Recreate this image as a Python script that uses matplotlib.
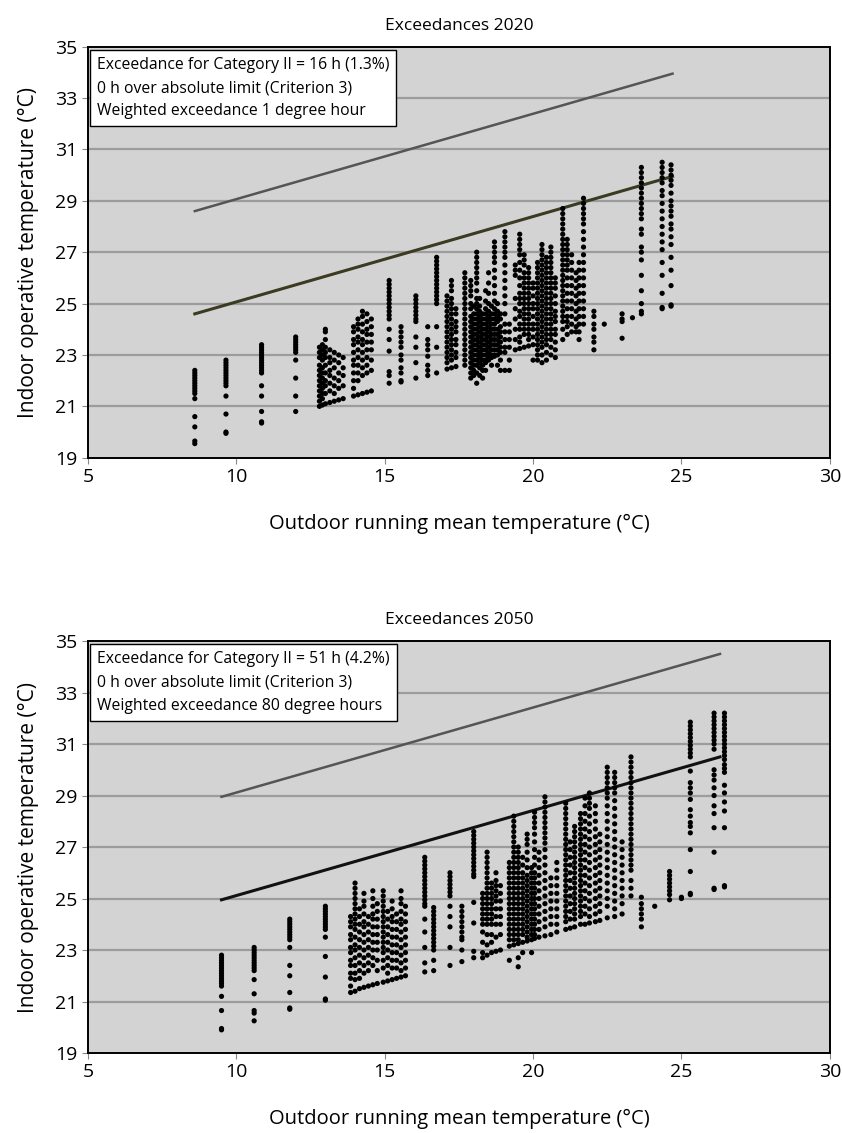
import numpy as np
import matplotlib
matplotlib.use('Agg')
import matplotlib.pyplot as plt

plt.rcParams['font.family'] = ['Open Sans', 'DejaVu Sans']

# Hourly indoor operative temperatures, one day per column: "Trm: T_op values"
COLUMNS_2020 = [
    '8.6: 22.4 22.3 22.2 22.1 22.0 21.9 21.8 21.7 21.6 21.5 21.3 20.6 20.2 19.65 19.55',
    '9.65: 22.8 22.7 22.6 22.5 22.4 22.3 22.2 22.1 22.0 21.9 21.8 21.4 20.7 20.0 19.95',
    '10.85: 23.4 23.3 23.2 23.1 23.0 22.9 22.8 22.7 22.6 22.5 22.4 22.3 21.8 21.4 20.8 20.4 20.35',
    '12.0: 23.7 23.6 23.5 23.4 23.3 23.2 23.1 22.8 22.1 21.4 20.8',
    '12.8: 23.3 23.1 22.9 22.6 22.4 22.2 22.0 21.8 21.6 21.4 21.2 21.0',
    '12.9: 23.4 23.2 23.0 22.8 22.5 22.3 22.1 21.9 21.7 21.5 21.3 21.05',
    '13.0: 24.0 23.9 23.6 23.3 23.1 22.9 22.6 22.3 22.0 21.8 21.5 21.1',
    '13.15: 23.2 22.9 22.7 22.4 22.2 21.9 21.6 21.15',
    '13.3: 23.1 22.8 22.5 22.1 21.8 21.5 21.2',
    '13.45: 23.0 22.7 22.3 22.0 21.7 21.25',
    '13.6: 22.9 22.5 22.2 21.8 21.3',
    '13.95: 24.1 23.9 23.6 23.4 23.1 22.8 22.6 22.3 22.0 21.7 21.4',
    '14.1: 24.4 24.2 24.0 23.7 23.5 23.2 22.9 22.6 22.3 22.0 21.45',
    '14.25: 24.7 24.5 24.2 23.9 23.6 23.4 23.1 22.8 22.5 22.2 21.5',
    '14.4: 24.6 24.3 24.0 23.8 23.5 23.2 22.9 22.6 22.3 21.55',
    '14.55: 24.4 24.1 23.8 23.5 23.2 22.8 22.4 21.6',
    '15.15: 25.9 25.75 25.6 25.45 25.3 25.15 25.0 24.85 24.7 24.55 24.4 24.0 23.6 23.15 22.35 22.2 21.9',
    '15.55: 24.1 23.9 23.7 23.5 23.3 23.0 22.8 22.5 22.3 22.0 21.95',
    '16.05: 25.3 25.15 25.0 24.85 24.7 24.55 24.4 24.3 23.7 23.3 22.7 22.1',
    '16.45: 24.1 23.6 23.4 23.2 22.95 22.6 22.4 22.2',
    '16.75: 26.8 26.65 26.5 26.35 26.2 26.05 25.9 25.75 25.6 25.45 25.3 25.15 25.0 24.1 23.3 22.3',
    '17.1: 25.3 25.1 24.9 24.7 24.5 24.3 24.1 23.9 23.7 23.5 23.3 23.1 22.9 22.7 22.45',
    '17.25: 25.9 25.7 25.5 25.2 25.0 24.8 24.6 24.4 24.2 24.0 23.8 23.6 23.4 23.2 23.0 22.8 22.5',
    '17.4: 24.8 24.6 24.3 24.1 23.9 23.6 23.4 23.1 22.9 22.55',
    '17.7: 26.2 26.0 25.8 25.6 25.4 25.2 25.0 24.8 24.6 24.4 24.2 24.0 23.8 23.6 23.4 23.2 23.0 22.8 22.6',
    '17.9: 25.9 25.7 25.5 25.3 25.0 24.8 24.5 24.3 24.1 23.9 23.7 23.5 23.3 23.1 22.9 22.7 22.5 22.3 22.1',
    '18.0: 24.9 24.6 24.4 24.2 24.0 23.8 23.6 23.4 23.2 23.0 22.8 22.6 22.4 22.2',
    '18.1: 27.0 26.8 26.6 26.4 26.2 26.0 25.8 25.5 25.2 25.0 24.8 24.6 24.4 24.2 24.0 23.8 23.6 23.4 23.2 23.0 22.8 22.6 22.3 21.9',
    '18.2: 25.2 24.9 24.7 24.5 24.3 24.1 23.9 23.7 23.5 23.3 23.1 22.9 22.7 22.5 22.2',
    '18.3: 24.6 24.4 24.2 24.0 23.8 23.6 23.4 23.2 23.0 22.8 22.6 22.4 22.1',
    '18.4: 25.5 25.1 24.8 24.6 24.4 24.2 24.0 23.8 23.6 23.4 23.2 23.0 22.8 22.7 22.4',
    '18.5: 26.2 25.8 25.4 25.0 24.7 24.5 24.3 24.1 23.9 23.7 23.5 23.3 23.1 22.9 22.8',
    '18.6: 24.9 24.6 24.4 24.2 24.0 23.8 23.6 23.4 23.2 23.0 22.9 22.6',
    '18.7: 27.4 27.2 27.0 26.8 26.6 26.3 26.0 25.7 25.4 25.1 24.8 24.6 24.4 24.2 24.0 23.8 23.6 23.4 23.2 23.0 22.95',
    '18.8: 25.0 24.7 24.5 24.3 24.0 23.8 23.6 23.4 23.2 23.0 22.6',
    '18.9: 24.6 24.4 24.1 23.9 23.7 23.5 23.3 23.1 22.8 22.4',
    '19.05: 27.8 27.6 27.4 27.2 27.0 26.8 26.5 26.2 25.9 25.6 25.3 25.0 24.6 24.2 23.9 23.6 23.3 23.1 22.4',
    '19.2: 24.2 23.9 23.6 23.3 22.8 22.4',
    '19.4: 26.5 26.3 26.1 25.2 24.8 24.4 24.0 23.6 23.2',
    '19.55: 27.7 27.5 27.3 27.1 26.9 26.6 26.3 26.0 25.7 25.4 25.2 25.0 24.7 24.5 24.2 24.0 23.7 23.5 23.25',
    '19.7: 26.9 26.7 26.5 26.2 26.0 25.8 25.6 25.4 25.2 25.0 24.8 24.6 24.4 24.2 24.0 23.8 23.3',
    '19.85: 26.4 26.2 26.0 25.8 25.6 25.4 25.2 25.0 24.8 24.6 24.4 24.2 24.0 23.8 23.6 23.35',
    '20.0: 25.8 25.6 25.3 25.0 24.8 24.5 24.2 24.0 23.7 23.4 22.8',
    '20.15: 26.6 26.4 26.2 26.0 25.8 25.6 25.4 25.2 25.0 24.8 24.6 24.4 24.2 24.0 23.8 23.6 23.4 23.2 23.0 22.8',
    '20.3: 27.3 27.1 26.9 26.7 26.5 26.3 26.1 25.9 25.7 25.5 25.3 25.1 24.9 24.7 24.5 24.3 24.1 23.9 23.7 23.5 23.3 23.0 22.7',
    '20.45: 26.8 26.6 26.4 26.2 26.0 25.8 25.6 25.4 25.2 25.0 24.8 24.6 24.4 24.2 24.0 23.8 23.6 23.4 23.1 22.8',
    '20.6: 27.2 27.0 26.8 26.6 26.4 26.2 26.0 25.8 25.6 25.4 25.2 25.0 24.8 24.6 24.4 24.2 24.0 23.8 23.6 23.3 23.0',
    '20.75: 26.0 25.8 25.6 25.3 25.0 24.7 24.5 24.3 24.0 23.8 23.5 23.2 22.9',
    '21.0: 28.7 28.5 28.3 28.1 27.9 27.7 27.5 27.3 27.1 26.9 26.7 26.5 26.3 26.1 25.9 25.7 25.5 25.3 25.1 24.9 24.7 24.5 24.3 24.0 23.6',
    '21.15: 27.5 27.3 27.1 26.9 26.7 26.5 26.3 26.0 25.7 25.4 25.1 24.8 24.5 24.3 24.1 23.8',
    '21.3: 26.9 26.6 26.3 26.0 25.7 25.4 25.1 24.8 24.5 24.2 23.9',
    '21.45: 26.2 25.9 25.6 25.3 25.0 24.7 24.4 24.1 23.9',
    '21.55: 26.6 26.3 26.0 25.7 25.4 25.1 24.8 24.5 24.2 23.9 23.6',
    '21.7: 29.1 28.9 28.7 28.5 28.3 28.1 27.8 27.5 27.2 26.9 26.6 26.3 26.0 25.7 25.4 25.1 24.8 24.5 24.2',
    '22.05: 24.7 24.5 24.2 24.0 23.7 23.5 23.2',
    '22.4: 24.2',
    '23.0: 24.6 24.4 24.3 23.65',
    '23.35: 24.45',
    '23.65: 30.3 30.1 29.9 29.7 29.5 29.3 29.1 28.9 28.7 28.5 28.3 27.9 27.7 27.2 27.0 26.7 26.1 25.5 25.0 24.7 24.6',
    '24.35: 30.5 30.3 30.1 29.9 29.7 29.4 29.2 28.9 28.6 28.3 28.0 27.7 27.4 27.1 26.6 26.1 25.4 24.85 24.8',
    '24.65: 30.4 30.2 30.0 29.8 29.6 29.3 29.0 28.8 28.6 28.4 28.1 27.9 27.6 27.3 26.8 26.3 25.7 24.95 24.9',
]

COLUMNS_2050 = [
    '9.5: 22.8 22.7 22.6 22.5 22.4 22.3 22.2 22.1 22.0 21.9 21.8 21.7 21.6 21.2 20.65 19.95 19.9',
    '10.6: 23.1 23.0 22.9 22.8 22.7 22.6 22.5 22.4 22.3 22.2 21.85 21.3 20.65 20.55 20.25',
    '11.8: 24.2 24.1 24.0 23.9 23.8 23.7 23.6 23.5 23.4 23.1 22.4 22.0 21.35 20.75 20.7',
    '13.0: 24.7 24.6 24.5 24.4 24.3 24.2 24.1 24.0 23.9 23.8 23.5 22.75 21.95 21.1 21.05',
    '13.85: 24.3 24.1 23.9 23.6 23.4 23.1 22.9 22.6 22.4 22.1 21.9 21.6 21.35',
    '14.0: 25.6 25.4 25.2 25.0 24.8 24.6 24.4 24.2 24.0 23.8 23.5 23.2 23.0 22.7 22.4 22.1 21.85 21.4',
    '14.15: 24.6 24.3 24.0 23.7 23.4 23.1 22.8 22.5 22.2 21.9 21.5',
    '14.3: 25.2 24.9 24.7 24.4 24.1 23.9 23.6 23.3 23.0 22.7 22.4 22.1 21.55',
    '14.45: 24.3 24.0 23.7 23.4 23.1 22.8 22.5 22.2 21.6',
    '14.6: 25.3 25.0 24.7 24.4 24.2 23.9 23.6 23.3 23.0 22.7 22.4 21.65',
    '14.75: 24.8 24.5 24.2 23.9 23.6 23.3 23.0 22.6 22.2 21.7',
    '14.95: 25.3 25.1 24.9 24.7 24.5 24.3 24.1 23.9 23.7 23.5 23.3 23.1 22.9 22.6 22.3 21.75',
    '15.1: 24.5 24.2 23.9 23.6 23.3 23.0 22.7 22.4 22.1 21.8',
    '15.25: 24.9 24.6 24.3 24.1 23.8 23.5 23.2 22.9 22.6 22.3 21.85',
    '15.4: 24.4 24.1 23.8 23.5 23.2 22.9 22.6 22.3 21.9',
    '15.55: 25.3 25.0 24.8 24.5 24.2 24.0 23.7 23.4 23.1 22.8 22.5 22.2 21.95',
    '15.7: 24.7 24.4 24.1 23.8 23.5 23.2 22.9 22.6 22.3 22.0',
    '16.35: 26.6 26.45 26.3 26.15 26.0 25.85 25.7 25.55 25.4 25.25 25.1 24.95 24.8 24.7 24.2 23.7 23.1 22.5 22.15',
    '16.65: 24.65 24.5 24.35 24.2 24.05 23.9 23.75 23.6 23.45 23.3 23.15 23.0 22.6 22.2',
    '17.2: 26.0 25.85 25.7 25.55 25.4 25.25 25.1 24.7 24.3 23.9 23.1 22.4',
    '17.6: 24.7 24.5 24.3 24.1 23.9 23.7 23.5 23.4 23.0 22.55',
    '18.0: 27.6 27.45 27.3 27.15 27.0 26.85 26.7 26.55 26.4 26.25 26.1 25.95 25.85 24.85 24.05 22.95 22.7',
    '18.3: 25.2 25.0 24.8 24.6 24.4 24.2 24.0 23.7 23.3 22.9 22.7',
    '18.45: 26.8 26.6 26.4 26.2 26.0 25.8 25.6 25.4 25.2 25.0 24.8 24.6 24.4 24.2 24.0 23.6 23.2 22.8',
    '18.6: 25.6 25.4 25.2 25.0 24.8 24.6 24.4 24.2 24.0 23.6 23.3 22.9',
    '18.75: 26.0 25.7 25.5 25.3 25.1 24.9 24.6 24.3 24.0 23.5 22.95',
    '18.9: 25.5 25.2 24.9 24.6 24.3 24.0 23.6 23.0',
    '19.2: 26.4 26.2 26.0 25.8 25.6 25.4 25.2 25.0 24.8 24.6 24.4 24.2 24.0 23.8 23.6 23.4 23.15 22.6',
    '19.35: 28.2 28.0 27.8 27.6 27.4 27.2 27.0 26.8 26.6 26.4 26.2 26.0 25.8 25.6 25.4 25.2 25.0 24.8 24.6 24.4 24.2 24.0 23.8 23.6 23.4 23.2',
    '19.5: 27.0 26.8 26.6 26.4 26.2 26.0 25.8 25.6 25.4 25.2 25.0 24.8 24.6 24.4 24.2 24.0 23.8 23.6 23.4 23.25 22.7 22.35',
    '19.65: 26.6 26.3 26.0 25.8 25.6 25.4 25.2 25.0 24.8 24.6 24.4 24.2 24.0 23.8 23.6 23.3 22.9',
    '19.8: 27.5 27.3 27.1 26.8 26.5 26.2 25.9 25.7 25.5 25.3 25.1 24.9 24.7 24.5 24.3 24.1 23.9 23.7 23.5 23.35',
    '19.95: 26.2 26.0 25.8 25.6 25.4 25.2 25.0 24.8 24.6 24.4 24.2 24.0 23.8 23.6 23.4 22.9',
    '20.05: 28.35 28.15 27.95 27.75 27.5 27.2 26.9 26.6 26.3 26.0 25.8 25.6 25.4 25.2 25.0 24.8 24.6 24.4 24.2 24.0 23.8 23.6 23.45',
    '20.2: 26.8 26.5 26.2 25.9 25.6 25.3 25.0 24.7 24.4 24.1 23.8 23.5',
    '20.4: 28.95 28.75 28.55 28.35 28.15 27.95 27.75 27.55 27.35 27.15 26.9 26.6 26.3 26.0 25.7 25.4 25.1 24.8 24.5 24.2 23.9 23.55',
    '20.6: 25.8 25.5 25.2 24.9 24.6 24.3 24.0 23.6',
    '20.8: 26.4 26.1 25.8 25.5 25.2 24.9 24.6 24.3 24.0 23.7',
    '21.1: 28.7 28.5 28.3 28.1 27.9 27.7 27.5 27.3 27.1 26.9 26.7 26.5 26.3 26.1 25.9 25.7 25.5 25.3 25.1 24.9 24.7 24.5 24.3 24.1 23.8',
    '21.25: 27.2 26.9 26.6 26.3 26.0 25.7 25.4 25.1 24.8 24.5 24.2 23.85',
    '21.4: 27.8 27.6 27.4 27.2 27.0 26.8 26.6 26.4 26.2 26.0 25.8 25.6 25.4 25.2 25.0 24.8 24.6 24.4 24.2 23.9',
    '21.6: 28.3 28.1 27.9 27.7 27.5 27.3 27.1 26.9 26.7 26.5 26.3 26.1 25.9 25.7 25.5 25.3 25.1 24.9 24.7 24.5 24.3 24.0',
    '21.75: 28.9 28.6 28.3 28.0 27.7 27.4 27.1 26.8 26.5 26.2 25.9 25.6 25.3 25.0 24.7 24.4 24.0',
    '21.9: 29.1 28.9 28.7 28.5 28.2 27.9 27.6 27.3 27.0 26.7 26.4 26.1 25.8 25.5 25.2 24.9 24.6 24.3 24.05',
    '22.1: 28.6 28.3 28.0 27.7 27.4 27.1 26.8 26.5 26.2 25.9 25.6 25.3 25.0 24.7 24.4 24.1',
    '22.25: 27.5 27.2 26.9 26.6 26.3 26.0 25.7 25.4 25.1 24.8 24.5 24.15',
    '22.5: 30.1 29.9 29.7 29.5 29.3 29.1 28.9 28.6 28.3 28.0 27.7 27.4 27.1 26.8 26.5 26.2 25.9 25.6 25.3 25.0 24.7 24.25',
    '22.75: 29.9 29.7 29.5 29.3 29.1 28.8 28.5 28.2 27.9 27.6 27.3 27.0 26.7 26.4 26.1 25.8 25.5 25.2 24.9 24.6 24.3',
    '23.0: 27.2 26.9 26.6 26.3 26.0 25.7 25.4 25.1 24.8 24.4',
    '23.3: 30.5 30.3 30.1 29.9 29.7 29.5 29.3 29.1 28.9 28.7 28.5 28.3 28.1 27.9 27.7 27.5 27.3 27.1 26.9 26.7 26.5 26.3 26.1 25.7 25.4 25.1',
    '23.65: 25.05 24.8 24.6 24.4 24.2 23.9',
    '24.1: 24.7',
    '24.6: 26.05 25.9 25.75 25.6 25.45 25.3 25.15 24.95',
    '25.0: 25.05 25.0',
    '25.3: 31.85 31.7 31.55 31.4 31.25 31.1 30.95 30.8 30.65 30.5 29.95 29.5 29.3 29.1 28.85 28.45 28.2 27.95 27.8 27.55 26.9 26.05 25.2 25.15',
    '26.1: 32.2 32.05 31.9 31.75 31.6 31.45 31.3 31.15 31.0 30.8 30.0 29.8 29.6 29.3 29.0 28.6 28.3 27.75 26.8 25.4 25.35',
    '26.45: 32.2 32.05 31.9 31.75 31.6 31.45 31.3 31.15 31.0 30.85 30.7 30.55 30.4 30.2 30.05 29.9 29.4 29.1 28.75 28.4 27.75 25.5 25.45',
]

# Category II upper limit and absolute limit (end points)
LINE_X_2020 = [8.6, 24.7]
CAT2_2020 = [24.6, 29.95]
ABS_2020 = [28.6, 33.95]
LINE_X_2050 = [9.5, 26.3]
CAT2_2050 = [24.95, 30.5]
ABS_2050 = [28.95, 34.5]

TITLES = ['Exceedances 2020', 'Exceedances 2050']
NOTES = [
    'Exceedance for Category II = 16 h (1.3%)\n0 h over absolute limit (Criterion 3)\nWeighted exceedance 1 degree hour',
    'Exceedance for Category II = 51 h (4.2%)\n0 h over absolute limit (Criterion 3)\nWeighted exceedance 80 degree hours',
]


def parse(columns):
    xs, ys = [], []
    for col in columns:
        x, vals = col.split(':')
        for v in vals.split():
            xs.append(float(x))
            ys.append(float(v))
    return np.array(xs), np.array(ys)


def draw(ax, columns, line_x, cat2, absl, cat2_color, title, note):
    ax.set_facecolor('#d3d3d3')
    for y in range(21, 35, 2):
        ax.axhline(y, color='#9c9c9c', lw=1.6, zorder=1)
    ax.plot(line_x, absl, color='#555555', lw=1.8, zorder=2)
    ax.plot(line_x, cat2, color=cat2_color, lw=2.2, zorder=2)
    x, y = parse(columns)
    ax.scatter(x, y, s=14, color='black', edgecolors='none', zorder=3)
    ax.set_xlim(5, 30)
    ax.set_ylim(19, 35)
    ax.set_xticks(range(5, 31, 5))
    ax.set_yticks(range(19, 36, 2))
    ax.tick_params(labelsize=14, length=4, color='#888888')
    for sp in ax.spines.values():
        sp.set_linewidth(1.4)
    ax.set_title(title, fontsize=12.5, pad=12)
    ax.set_xlabel('Outdoor running mean temperature (°C)', fontsize=14.5, labelpad=20)
    ax.set_ylabel('Indoor operative temperature (°C)', fontsize=15, labelpad=12)
    ax.text(0.012, 0.975, note, transform=ax.transAxes, ha='left', va='top',
            fontsize=11.3, linespacing=1.6, zorder=5,
            bbox=dict(boxstyle='square,pad=0.45', fc='white', ec='black', lw=1.0))


def main():
    fig = plt.figure(figsize=(8.42, 11.33), dpi=100)
    ax1 = fig.add_axes([0.1045, 0.596, 0.881, 0.3628])
    ax2 = fig.add_axes([0.1045, 0.0706, 0.881, 0.3636])
    draw(ax1, COLUMNS_2020, LINE_X_2020, CAT2_2020, ABS_2020, '#3b3b22', TITLES[0], NOTES[0])
    draw(ax2, COLUMNS_2050, LINE_X_2050, CAT2_2050, ABS_2050, '#111111', TITLES[1], NOTES[1])
    fig.savefig('out.png', dpi=100)
    plt.close(fig)


if __name__ == '__main__':
    main()
